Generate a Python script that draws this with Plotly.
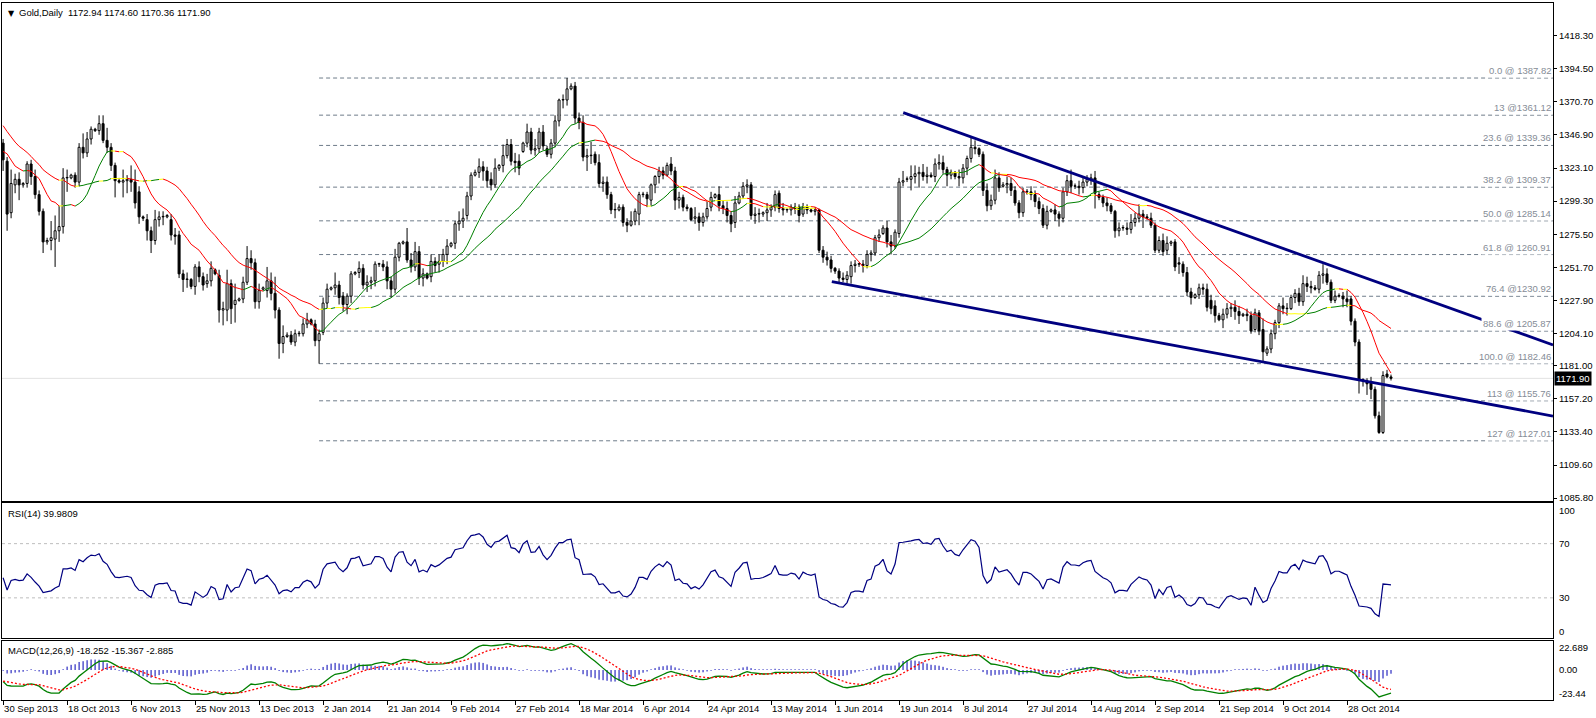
import numpy as np
import plotly.graph_objects as go

# ---------------- data (one value per daily bar incl. Sunday bars) -------------
open_ = [
1341,1328,1291,1311,1315,1311,1312,1326,1317,1304,
1292,1270,1271,1272,1278,1281,1316,1316,1318,1313,
1338,1334,1344,1351,1350,1355,1343,1338,1325,1314,
1313,1314,1315,1313,1306,1288,1286,1278,1271,1286,
1288,1288,1286,1275,1275,1247,1243,1243,1238,1252,
1245,1240,1242,1250,1246,1221,1221,1240,1225,1228,
1229,1241,1258,1255,1227,1236,1235,1242,1233,1221,
1197,1202,1203,1198,1204,1204,1211,1214,1211,1199,
1205,1226,1236,1237,1239,1231,1225,1231,1247,1248,
1251,1239,1241,1242,1254,1254,1252,1242,1236,1259,
1269,1270,1257,1252,1263,1244,1247,1245,1256,1254,
1256,1261,1267,1269,1283,1285,1289,1303,1318,1320,
1324,1321,1315,1311,1323,1325,1332,1340,1328,1328,
1335,1341,1349,1336,1337,1349,1337,1333,1341,1357,
1372,1372,1380,1382,1359,1356,1331,1332,1333,1327,
1312,1313,1304,1293,1293,1295,1284,1282,1285,1290,
1304,1304,1300,1311,1317,1321,1318,1326,1321,1300,
1302,1295,1294,1287,1288,1284,1288,1295,1302,1304,
1296,1294,1289,1284,1298,1303,1310,1311,1289,1290,
1290,1291,1293,1295,1305,1294,1293,1293,1295,1295,
1290,1295,1293,1292,1293,1264,1259,1257,1251,1249,
1244,1243,1245,1253,1254,1254,1253,1261,1262,1273,
1276,1280,1270,1267,1276,1313,1315,1315,1317,1319,
1320,1317,1318,1317,1326,1327,1322,1318,1320,1317,
1316,1323,1330,1338,1337,1333,1307,1296,1300,1316,
1310,1311,1312,1307,1298,1291,1306,1306,1304,1299,
1294,1282,1292,1293,1290,1287,1306,1314,1310,1310,
1309,1313,1315,1316,1304,1302,1298,1296,1292,1278,
1280,1280,1279,1284,1287,1290,1288,1287,1282,1264,
1271,1264,1269,1270,1255,1254,1248,1234,1230,1232,
1237,1236,1228,1224,1217,1214,1218,1222,1223,1220,
1217,1218,1217,1207,1219,1207,1190,1193,1204,1212,
1224,1222,1222,1230,1233,1227,1240,1238,1237,1236,
1246,1247,1241,1228,1231,1231,1229,1229,1213,1198,
1171,1170,1169,1164,1145,1133,1175,1172.94]

high_ = [
1344,1331,1322,1319,1320,1313,1328,1329,1322,1307,
1294,1273,1285,1289,1296,1323,1322,1319,1320,1341,
1348,1349,1353,1352,1361,1361,1352,1341,1327,1316,
1322,1318,1325,1322,1310,1289,1290,1281,1293,1292,
1292,1290,1290,1280,1278,1250,1248,1244,1254,1256,
1248,1247,1256,1251,1250,1227,1250,1243,1240,1230,
1245,1267,1264,1258,1240,1238,1252,1248,1245,1223,
1210,1205,1206,1207,1206,1215,1219,1215,1214,1207,
1230,1240,1238,1248,1242,1234,1233,1249,1249,1256,
1254,1246,1245,1256,1255,1257,1256,1245,1265,1270,
1271,1280,1262,1270,1267,1251,1248,1261,1259,1261,
1265,1272,1270,1285,1292,1294,1306,1320,1322,1330,
1328,1324,1320,1330,1326,1340,1344,1344,1334,1333,
1342,1355,1352,1344,1352,1354,1339,1344,1361,1373,
1376,1387.82,1384,1385,1363,1361,1337,1342,1335,1333,
1317,1317,1306,1298,1297,1297,1287,1292,1294,1306,
1306,1306,1312,1318,1324,1324,1327,1331,1324,1306,
1304,1297,1295,1295,1291,1291,1299,1306,1305,1310,
1300,1299,1292,1303,1306,1313,1315,1313,1295,1294,
1292,1298,1297,1307,1307,1298,1294,1297,1298,1297,
1298,1297,1294,1295,1294,1267,1263,1260,1252,1251,
1248,1249,1256,1257,1255,1257,1264,1264,1275,1279,
1282,1285,1275,1279,1316,1321,1317,1325,1325,1324,
1326,1324,1320,1330,1333,1332,1324,1322,1321,1322,
1326,1332,1346,1343,1338,1335,1312,1304,1322,1320,
1313,1317,1316,1310,1300,1309,1308,1310,1307,1302,
1297,1296,1294,1297,1292,1309,1318,1322,1312,1314,
1316,1318,1319,1321,1306,1304,1302,1298,1293,1284,
1282,1284,1290,1291,1297,1293,1290,1291,1284,1274,
1276,1274,1271,1272,1259,1256,1252,1237,1233,1240,
1240,1240,1232,1228,1219,1222,1226,1226,1228,1224,
1219,1222,1220,1222,1221,1215,1195,1207,1214,1226,
1230,1226,1232,1236,1237,1246,1245,1242,1239,1249,
1254,1251,1243,1235,1233,1234,1235,1231,1215,1200,
1172,1172,1173,1166,1148,1177,1178,1174.60]

low_ = [
1321,1278,1287,1305,1300,1309,1309,1311,1301,1289,
1262,1268,1264,1252,1270,1276,1306,1315,1309,1310,
1330,1331,1340,1349,1347,1341,1334,1321,1302,1312,
1302,1305,1306,1294,1283,1285,1271,1262,1268,1281,
1282,1287,1271,1268,1244,1234,1237,1236,1232,1241,
1235,1237,1238,1246,1212,1210,1213,1211,1212,1227,
1226,1239,1250,1222,1222,1235,1230,1228,1215,1186,
1190,1201,1196,1195,1202,1202,1208,1210,1195,1182.46,
1203,1222,1235,1232,1225,1220,1218,1226,1246,1244,
1236,1234,1236,1238,1252,1249,1236,1230,1233,1256,
1268,1255,1248,1249,1239,1238,1243,1241,1248,1248,
1252,1254,1266,1265,1278,1280,1286,1300,1317,1316,
1314,1309,1307,1309,1321,1320,1330,1325,1320,1318,
1334,1338,1333,1332,1334,1336,1331,1330,1338,1353,
1366,1368,1379,1355,1351,1328,1321,1326,1325,1309,
1306,1301,1290,1287,1292,1281,1277,1281,1282,1282,
1302,1295,1296,1305,1312,1315,1317,1318,1293,1294,
1292,1292,1285,1283,1278,1281,1286,1292,1301,1292,
1290,1284,1277,1280,1297,1301,1305,1286,1283,1284,
1288,1285,1288,1292,1291,1289,1291,1289,1290,1284,
1288,1290,1291,1289,1262,1255,1253,1248,1247,1240,
1241,1240,1240,1248,1252,1248,1251,1256,1260,1270,
1275,1266,1261,1265,1273,1310,1313,1307,1312,1309,
1314,1312,1316,1313,1322,1319,1310,1315,1315,1310,
1312,1318,1327,1333,1331,1303,1292,1293,1297,1306,
1309,1305,1303,1296,1287,1288,1304,1300,1295,1290,
1280,1279,1291,1285,1281,1284,1303,1305,1308,1304,
1305,1310,1311,1294,1300,1295,1292,1290,1273,1274,
1278,1275,1276,1281,1284,1280,1286,1280,1262,1262,
1260,1261,1267,1249,1247,1245,1231,1225,1229,1229,
1232,1220,1218,1212,1213,1208,1215,1216,1214,1211,
1216,1213,1204,1205,1203,1183.5,1188,1190,1200,1208,
1218,1217,1221,1226,1224,1224,1234,1233,1235,1233,
1240,1239,1226,1226,1230,1223,1223,1210,1195,1161,
1166,1160,1157,1143,1132,1131.9,1172,1170.36]

close_ = [
1329,1290,1312,1315,1311,1312,1326,1317,1304,1292,
1270,1271,1273,1278,1281,1316,1316,1318,1313,1338,
1334,1344,1351,1350,1355,1343,1338,1325,1314,1313,
1314,1315,1313,1298,1288,1287,1278,1271,1286,1288,
1288,1289,1275,1274,1247,1243,1243,1238,1252,1245,
1239,1242,1251,1247,1221,1222,1240,1222,1228,1229,
1241,1258,1255,1227,1235,1237,1242,1233,1221,1197,
1202,1203,1198,1204,1204,1211,1214,1211,1199,1204,
1226,1236,1237,1239,1230,1225,1231,1247,1248,1251,
1239,1241,1242,1254,1254,1252,1242,1236,1259,1269,
1270,1257,1252,1263,1244,1247,1244,1256,1253,1256,
1261,1267,1269,1283,1285,1287,1303,1318,1320,1324,
1321,1314,1311,1323,1325,1332,1340,1328,1327,1323,
1341,1349,1336,1337,1349,1339,1333,1341,1357,1372,
1372,1380,1382,1359,1356,1331,1332,1332,1327,1312,
1313,1304,1293,1293,1295,1284,1282,1285,1292,1304,
1304,1301,1311,1317,1321,1318,1325,1321,1300,1302,
1295,1294,1286,1288,1284,1288,1294,1302,1304,1296,
1294,1289,1283,1298,1303,1310,1311,1289,1290,1290,
1291,1293,1295,1304,1294,1293,1293,1295,1294,1289,
1295,1293,1292,1293,1264,1259,1257,1251,1249,1244,
1243,1246,1253,1254,1254,1253,1261,1262,1273,1275,
1280,1270,1267,1277,1313,1314,1315,1317,1319,1320,
1317,1318,1317,1326,1327,1322,1318,1320,1317,1316,
1323,1330,1338,1337,1333,1307,1296,1300,1316,1309,
1311,1312,1307,1298,1291,1306,1306,1304,1299,1294,
1282,1292,1293,1290,1287,1306,1314,1310,1310,1309,
1313,1315,1316,1305,1302,1298,1296,1292,1278,1280,
1280,1279,1284,1287,1290,1288,1287,1282,1264,1271,
1263,1269,1270,1252,1254,1248,1234,1230,1232,1237,
1236,1223,1222,1217,1214,1218,1222,1223,1220,1217,
1218,1217,1206,1219,1206,1191,1193,1204,1212,1224,
1222,1222,1230,1233,1227,1240,1238,1237,1236,1246,
1247,1241,1228,1231,1231,1229,1227,1213,1198,1171,
1170,1168,1164,1145,1133,1174,1173,1171.90]

# estimated closes before the first visible bar (only used to warm up the indicators)
warmup_close = [1311,1310,1310,1302,1282,1286,1311,1313,1315,1334,1319,1335,1360,1377,1375,
                1366,1372,1370,1374,1396,1398,1403,1419,1418,1410,1396,1400,1412,1412,1390,
                1367,1387,1390,1386,1363,1366,1330,1327,1325,1318,1310,1366,1367,1333,1332,
                1322,1323,1337,1323,1338,1340]

date_labels = ["30 Sep 2013", "18 Oct 2013", "6 Nov 2013", "25 Nov 2013", "13 Dec 2013",
               "2 Jan 2014", "21 Jan 2014", "9 Feb 2014", "27 Feb 2014", "18 Mar 2014",
               "6 Apr 2014", "24 Apr 2014", "13 May 2014", "1 Jun 2014", "19 Jun 2014",
               "8 Jul 2014", "27 Jul 2014", "14 Aug 2014", "2 Sep 2014", "21 Sep 2014",
               "9 Oct 2014", "28 Oct 2014"]
label_step = 16

price_ticks = [1418.30, 1394.50, 1370.70, 1346.90, 1323.10, 1299.30, 1275.50, 1251.70,
               1227.90, 1204.10, 1181.00, 1157.20, 1133.40, 1109.60, 1085.80]

fib_high = 1387.82
fib_low = 1182.46
fib_pcts = [0.0, 13, 23.6, 38.2, 50.0, 61.8, 76.4, 88.6, 100.0, 113, 127]
fib_labels = ["0.0 @ 1387.82", "13 @1361.12", "23.6 @ 1339.36", "38.2 @ 1309.37",
              "50.0 @ 1285.14", "61.8 @ 1260.91", "76.4 @1230.92", "88.6 @ 1205.87",
              "100.0 @ 1182.46", "113 @ 1155.76", "127 @ 1127.01"]
fib_start_bar = 79

trend_upper_x = [225.05, 387.5]
trend_upper_y = [1362.9, 1195.9]
trend_lower_x = [207.2, 387.5]
trend_lower_y = [1241.4, 1144.8]

title_text = "Gold,Daily  1172.94 1174.60 1170.36 1171.90"
rsi_text = "RSI(14) 39.9809"
macd_text = "MACD(12,26,9) -18.252 -15.367 -2.885"
last_price = 1171.90

FAST, SLOW = 12, 26

# ---------------- indicator computations ----------------
n = len(close_)
W = len(warmup_close)
full = np.array(warmup_close + close_, dtype=float)
idx = np.arange(n)


def sma(v, p):
    out = np.full(len(v), np.nan)
    c = np.cumsum(np.insert(v, 0, 0.0))
    out[p - 1:] = (c[p:] - c[:-p]) / p
    return out


def ema(v, p):
    a = 2.0 / (p + 1)
    out = np.empty(len(v))
    out[0] = v[0]
    for i in range(1, len(v)):
        out[i] = a * v[i] + (1 - a) * out[i - 1]
    return out


def rsi(v, p=14):
    d = np.diff(v)
    g = np.where(d > 0, d, 0.0)
    l = np.where(d < 0, -d, 0.0)
    out = np.full(len(v), np.nan)
    ag, al = g[:p].mean(), l[:p].mean()
    out[p] = 100 - 100 / (1 + ag / al) if al > 0 else 100
    for i in range(p + 1, len(v)):
        ag = (ag * (p - 1) + g[i - 1]) / p
        al = (al * (p - 1) + l[i - 1]) / p
        out[i] = 100 - 100 / (1 + ag / al) if al > 0 else 100
    return out


ma_fast = sma(full, FAST)[W:]
ma_slow = sma(full, SLOW)[W:]
rsi_v = rsi(full)[W:]
macd_full = ema(full, 12) - ema(full, 26)
sig_full = ema(macd_full, 9)
macd_v = macd_full[W:]
sig_v = sig_full[W:]
hist_v = macd_v - sig_v

# ---------------- figure ----------------
fig = go.Figure()

o = np.array(open_, float)
h = np.array(high_, float)
l = np.array(low_, float)
c = np.array(close_, float)
top = np.maximum(o, c)
bot = np.minimum(o, c)

# wicks (upper and lower parts separately so they never cross the body)
wx, wy = [], []
for i in range(n):
    wx += [i, i, None, i, i, None]
    wy += [top[i], h[i], None, l[i], bot[i], None]
fig.add_trace(go.Scatter(x=wx, y=wy, mode="lines", line=dict(color="black", width=1),
                         xaxis="x", yaxis="y", hoverinfo="skip"))

# bodies
body_h = np.maximum(top - bot, 0.35)
body_col = ["white" if c[i] >= o[i] else "black" for i in range(n)]
fig.add_trace(go.Bar(x=idx, y=body_h, base=bot, width=0.5,
                     marker=dict(color=body_col, line=dict(color="black", width=1)),
                     xaxis="x", yaxis="y", hoverinfo="skip"))


def colored_ma(vals, thr=0.3):
    buckets = {"#008000": ([], []), "#FF0000": ([], []), "#FFFF00": ([], [])}
    for i in range(1, len(vals)):
        if np.isnan(vals[i]) or np.isnan(vals[i - 1]):
            continue
        d = vals[i] - vals[i - 1]
        col = "#008000" if d > thr else ("#FF0000" if d < -thr else "#FFFF00")
        bx, by = buckets[col]
        bx += [i - 1, i, None]
        by += [vals[i - 1], vals[i], None]
    return buckets


for ma in (ma_slow, ma_fast):
    for col, (bx, by) in colored_ma(ma).items():
        if bx:
            fig.add_trace(go.Scatter(x=bx, y=by, mode="lines", line=dict(color=col, width=1),
                                     xaxis="x", yaxis="y", hoverinfo="skip"))

# trend lines
for tx, ty in ((trend_upper_x, trend_upper_y), (trend_lower_x, trend_lower_y)):
    fig.add_trace(go.Scatter(x=tx, y=ty, mode="lines", line=dict(color="#000080", width=2.8),
                             xaxis="x", yaxis="y", hoverinfo="skip", cliponaxis=True))

# RSI
fig.add_trace(go.Scatter(x=idx, y=rsi_v, mode="lines", line=dict(color="#000080", width=1.2),
                         xaxis="x2", yaxis="y2", hoverinfo="skip"))

# MACD histogram
hx, hy = [], []
for i in range(n):
    v = hist_v[i]
    if abs(v) < 0.6:
        v = 0.6 if v >= 0 else -0.6
    hx += [i, i, None]
    hy += [0, v, None]
fig.add_trace(go.Scatter(x=hx, y=hy, mode="lines", line=dict(color="#0000B4", width=1),
                         xaxis="x3", yaxis="y3", hoverinfo="skip"))
fig.add_trace(go.Scatter(x=idx, y=macd_v, mode="lines", line=dict(color="#008000", width=1.3),
                         xaxis="x3", yaxis="y3", hoverinfo="skip"))
fig.add_trace(go.Scatter(x=idx, y=sig_v, mode="lines",
                         line=dict(color="#FF0000", width=1.3, dash="2px,2px"),
                         xaxis="x3", yaxis="y3", hoverinfo="skip"))

# ---------------- shapes & annotations ----------------
XR = [-0.275, 387.5]
shapes = []
annotations = []
fib_levels = [fib_high - p / 100.0 * (fib_high - fib_low) for p in fib_pcts]
for lvl, txt in zip(fib_levels, fib_labels):
    shapes.append(dict(type="line", xref="x", yref="y", x0=fib_start_bar, x1=XR[1], y0=lvl, y1=lvl,
                       line=dict(color="#6F7C8A", width=1, dash="4px,3px"), layer="below"))
    annotations.append(dict(x=1, xref="paper", y=lvl, yref="y", xanchor="right", yanchor="bottom",
                            text=txt, showarrow=False, bgcolor="white", borderpad=1,
                            font=dict(size=9.5, color="#858C96")))
# bid line
shapes.append(dict(type="line", xref="paper", yref="y", x0=0, x1=1, y0=last_price, y1=last_price,
                   line=dict(color="#E2E2E2", width=1), layer="below"))
# RSI levels
for lv in (30, 70):
    shapes.append(dict(type="line", xref="paper", yref="y2", x0=0, x1=1, y0=lv, y1=lv,
                       line=dict(color="#BDBDBD", width=1, dash="3px,3px"), layer="below"))

annotations.append(dict(x=1, xref="paper", y=last_price, yref="y", xanchor="left", yanchor="middle",
                        xshift=1, text="1171.90", showarrow=False, bgcolor="black", borderpad=1,
                        font=dict(size=9.5, color="white")))
annotations.append(dict(x=0, xref="paper", y=1, yref="paper", xanchor="left", yanchor="top",
                        xshift=4, yshift=-4, text="▼", showarrow=False,
                        font=dict(size=8, color="black", family="DejaVu Sans")))
annotations.append(dict(x=0, xref="paper", y=1, yref="paper", xanchor="left", yanchor="top",
                        xshift=15, yshift=-2, text=title_text, showarrow=False,
                        font=dict(size=9.5, color="black")))
annotations.append(dict(x=0, xref="paper", y=0.28264, yref="paper", xanchor="left", yanchor="top",
                        xshift=4, yshift=-3, text=rsi_text, showarrow=False,
                        font=dict(size=9.5, color="black")))
annotations.append(dict(x=0, xref="paper", y=0.08465, yref="paper", xanchor="left", yanchor="top",
                        xshift=4, yshift=-2, text=macd_text, showarrow=False,
                        font=dict(size=9.5, color="black")))

axis_common = dict(showgrid=False, zeroline=False, showline=True, mirror=True,
                   linecolor="black", linewidth=1, automargin=False)

layout = dict(
    width=1596, height=718,
    margin=dict(l=2, r=43, t=3, b=18, pad=0),
    paper_bgcolor="white", plot_bgcolor="white",
    showlegend=False, hovermode=False, barmode="overlay",
    font=dict(family="Liberation Sans, Arial, sans-serif", size=9.5, color="black"),
    xaxis=dict(domain=[0, 1], anchor="y", range=XR, showticklabels=False, ticks="", **axis_common),
    xaxis2=dict(domain=[0, 1], anchor="y2", matches="x", range=XR, showticklabels=False, ticks="",
                **axis_common),
    xaxis3=dict(domain=[0, 1], anchor="y3", matches="x", range=XR,
                tickvals=[i * label_step for i in range(len(date_labels))], ticktext=date_labels,
                ticks="outside", ticklen=4, tickcolor="black", ticklabelposition="outside right",
                tickfont=dict(size=9.5), **axis_common),
    yaxis=dict(domain=[0.28551, 1], anchor="x", side="right", range=[1083.73, 1441.75],
               tickvals=price_ticks, ticktext=["%.2f" % t for t in price_ticks],
               ticks="outside", ticklen=3, tickcolor="black", tickfont=dict(size=9.5), **axis_common),
    yaxis2=dict(domain=[0.08824, 0.28264], anchor="x2", side="right", range=[0, 100],
                tickvals=[94, 70, 30, 5], ticktext=["100", "70", "30", "0"],
                ticks="outside", ticklen=3, tickcolor="rgba(0,0,0,0)", tickfont=dict(size=9.5),
                **axis_common),
    yaxis3=dict(domain=[0, 0.08465], anchor="x3", side="right", range=[-23.44, 22.689],
                tickvals=[17.8, 0, -18.2], ticktext=["22.689", "0.00", "-23.44"],
                ticks="outside", ticklen=3, tickcolor="rgba(0,0,0,0)", tickfont=dict(size=9.5),
                **axis_common),
    shapes=shapes, annotations=annotations,
)
fig.update_layout(**layout)
fig.write_html("out.html", config={"displayModeBar": False, "staticPlot": True},
               post_script="document.body.style.margin='0';document.body.style.overflow='hidden';")
